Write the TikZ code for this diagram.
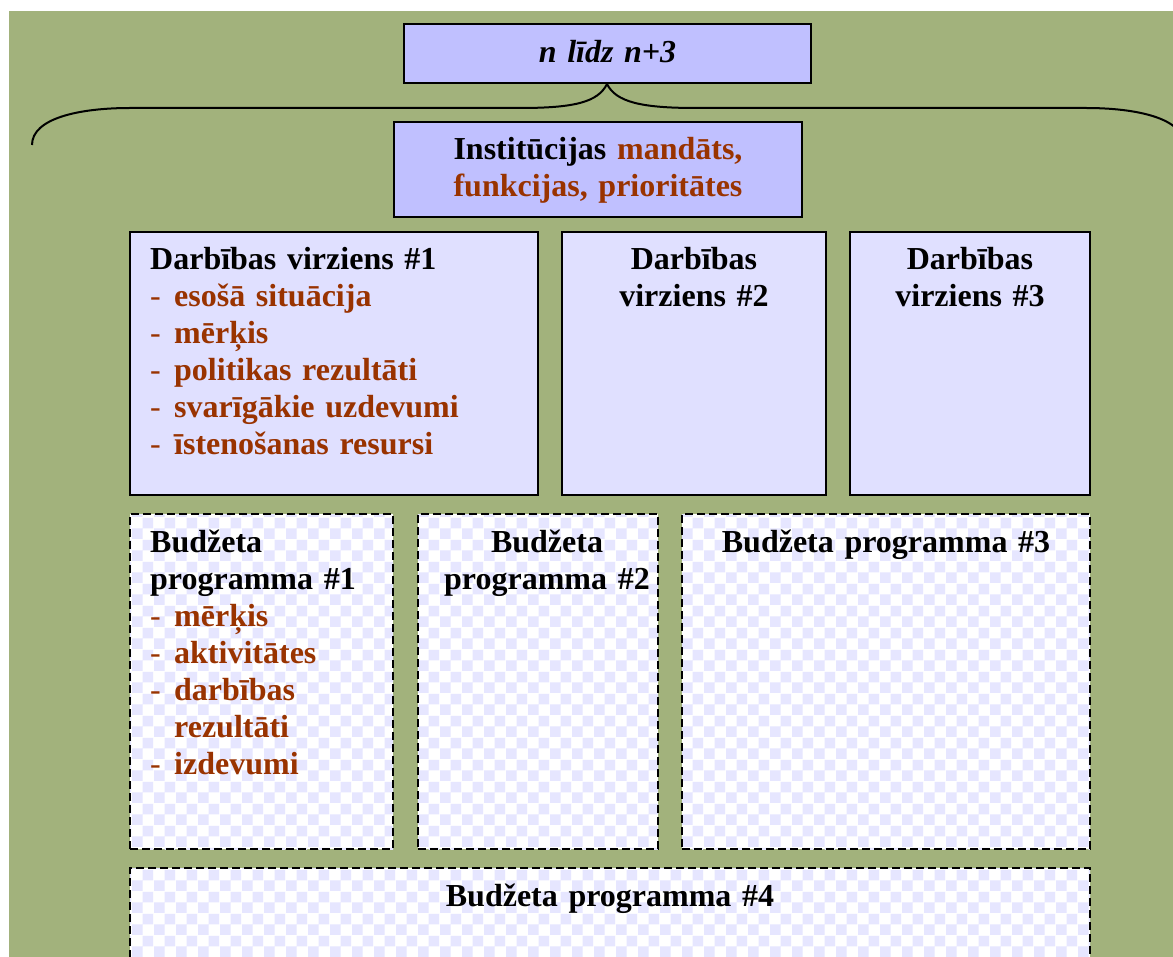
\documentclass[tikz,border=0pt]{standalone}
\usepackage{fontspec}
\setmainfont{Liberation Serif}
\usepackage{tikz}
\usetikzlibrary{patterns}
\usetikzlibrary{positioning}

\definecolor{bggreen}{RGB}{162,178,124}
\definecolor{topfill}{RGB}{192,192,255}
\definecolor{boxfill}{RGB}{224,224,255}
\definecolor{checkfill}{RGB}{230,230,255}
\definecolor{brn}{RGB}{153,51,0}

\pgfdeclarepatternformonly{lavchecker}{\pgfpointorigin}{\pgfqpoint{22pt}{22pt}}{\pgfqpoint{22pt}{22pt}}{%
  \pgfpathrectangle{\pgfpointorigin}{\pgfqpoint{11pt}{11pt}}%
  \pgfpathrectangle{\pgfqpoint{11pt}{11pt}}{\pgfqpoint{11pt}{11pt}}%
  \pgfusepath{fill}}

\newcommand{\dashitem}[1]{{\color{brn}\makebox[24pt][l]{\mdseries -}#1}}

\begin{document}
\begin{tikzpicture}[x=1pt,y=-1pt,
  box/.style={draw,line width=2pt,inner sep=0pt,anchor=north west},
  solidbox/.style={box,fill=boxfill},
  topbox/.style={box,fill=topfill},
  progbox/.style={box,dash pattern=on 8pt off 4pt,preaction={fill=white},pattern=lavchecker,pattern color=checkfill},
  txt/.style={inner sep=0pt,font=\fontsize{32}{37}\selectfont\bfseries},
  lefttxt/.style={txt,anchor=base west,text width=420pt,align=left},
  midtxt/.style={txt,anchor=base,align=center}]
  \useasboundingbox (0,0) rectangle (1173,957);
  \clip (0,0) rectangle (1173,957);
  \fill[bggreen] (9,11) rectangle (1173,957);

  \coordinate (tip) at (607,84);
  \draw[line width=2pt] (32,145) .. controls (32,118) and (80,108) .. (130,108) -- (520,108)
    .. controls (575,108) and (598,102) .. (tip)
    .. controls (616,102) and (641,108) .. (696,108) -- (1086,108)
    .. controls (1136,108) and (1184,118) .. (1184,145);
  \node[topbox,minimum width=407pt,minimum height=59pt] (top) at (403,23) {};
  \node[midtxt,text width=407pt] (topt) at ([yshift=-40pt]top.north) {\itshape n līdz n+3};

  \node[topbox,minimum width=408pt,minimum height=95pt] (inst) at (393,121) {};
  \node[midtxt,text width=408pt] (instt) at ([yshift=-39pt]inst.north) {Institūcijas \textcolor{brn}{mandāts,}\\ \textcolor{brn}{funkcijas, prioritātes}};

  \node[solidbox,minimum width=408pt,minimum height=263pt] (d1) at (129,231) {};
  \node[solidbox,minimum width=264pt,minimum height=263pt] (d2) at (561,231) {};
  \node[solidbox,minimum width=240pt,minimum height=263pt] (d3) at (849,231) {};
  \node[lefttxt] (d1t) at ([xshift=21pt,yshift=-39pt]d1.north west) {Darbības virziens \#1\\ \dashitem{esošā situācija}\\ \dashitem{mērķis}\\ \dashitem{politikas rezultāti}\\ \dashitem{svarīgākie uzdevumi}\\ \dashitem{īstenošanas resursi}};
  \node[midtxt,text width=264pt] (d2t) at ([yshift=-39pt]d2.north) {Darbības\\ virziens \#2};
  \node[midtxt,text width=240pt] (d3t) at ([yshift=-39pt]d3.north) {Darbības\\ virziens \#3};

  \node[progbox,minimum width=263pt,minimum height=335pt] (b1) at (129,513) {};
  \node[progbox,minimum width=240pt,minimum height=335pt] (b2) at (417,513) {};
  \node[progbox,minimum width=408pt,minimum height=335pt] (b3) at (681,513) {};
  \node[progbox,minimum width=960pt,minimum height=110pt] (b4) at (129,867) {};
  \node[lefttxt] (b1t) at ([xshift=21pt,yshift=-39pt]b1.north west) {Budžeta\\ programma \#1\\ \dashitem{mērķis}\\ \dashitem{aktivitātes}\\ \dashitem{darbības}\\ \hspace*{24pt}\textcolor{brn}{rezultāti}\\ \dashitem{izdevumi}};
  \node[midtxt,text width=240pt] (b2t) at ([xshift=9pt,yshift=-39pt]b2.north) {Budžeta\\ programma \#2};
  \node[midtxt,text width=408pt] (b3t) at ([yshift=-39pt]b3.north) {Budžeta programma \#3};
  \node[midtxt,text width=960pt] (b4t) at ([yshift=-39pt]b4.north) {Budžeta programma \#4};
\end{tikzpicture}
\end{document}
